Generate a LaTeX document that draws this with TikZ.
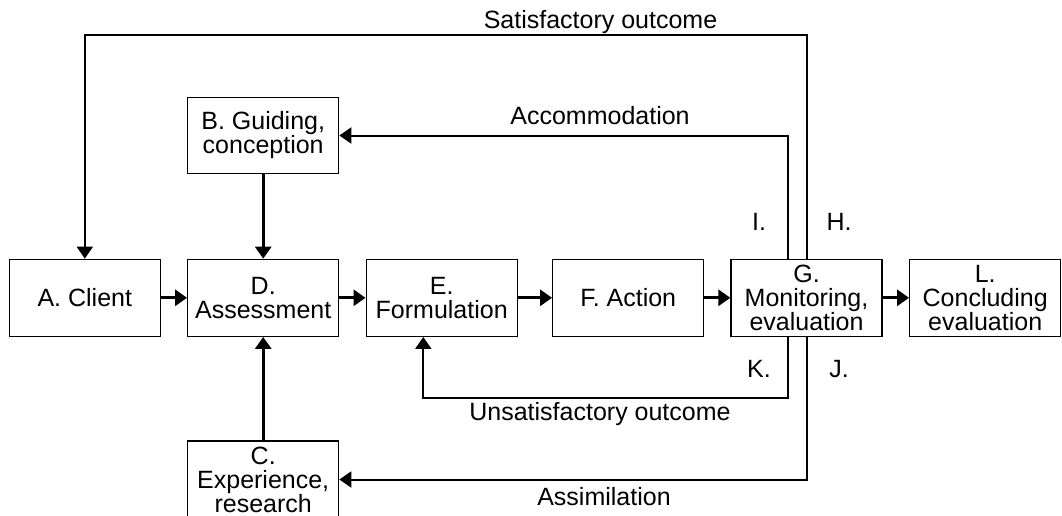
\documentclass[tikz,border=0pt]{standalone}
\usepackage{fontspec}
\setmainfont{Liberation Sans}
\usetikzlibrary{arrows.meta}
\begin{document}
\begin{tikzpicture}[x=1pt,y=-1pt,
  box/.style={draw, line width=1.3pt, minimum width=151pt, minimum height=77pt, inner sep=0pt, align=center, font=\fontsize{25}{24}\selectfont},
  lbl/.style={anchor=base, inner sep=0pt, font=\fontsize{25}{24}\selectfont},
  flow/.style={line width=3pt, -{Triangle[length=12pt,width=16pt]}},
  fb/.style={line width=2pt, -{Triangle[length=12pt,width=16pt]}},
]
\clip (0,0) rectangle (1062,515);
\node[box] (A) at (84.8,297.8) {A. Client};
\node[box] (D) at (263.2,297.8) {D.\\Assessment};
\node[box] (E) at (441.7,297.8) {E.\\Formulation};
\node[box] (F) at (628.2,297.8) {F. Action};
\node[box] (G) at (806.5,297.8) {G.\\Monitoring,\\evaluation};
\node[box] (L) at (985.2,297.8) {L.\\Concluding\\evaluation};
\node[box, minimum height=76.4pt] (B) at (263.2,135.5) {B. Guiding,\\conception};
\node[box] (C) at (263.2,479.5) {C.\\Experience,\\research};

\draw[flow] (A) -- (D);
\draw[flow] (D) -- (E);
\draw[flow] (E) -- (F);
\draw[flow] (F) -- (G);
\draw[flow] (G) -- (L);
\draw[flow] (B) -- (D);
\draw[flow] (C) -- (D);

\coordinate (topY) at (0,35);
\coordinate (unsY) at (0,398);
\draw[fb] (G.north) -- (G.north |- topY) -| (A.north);
\draw[fb] ([xshift=-18.5pt]G.north) |- (B.east);
\draw[fb] ([xshift=-18.5pt]G.south) -- ([xshift=-18.5pt]G.south |- unsY) -| ([xshift=-18.4pt]E.south);
\draw[fb] (G.south) |- (C.east);

\node[lbl] (sat) at (600.5,28) {Satisfactory outcome};
\node[lbl] (acc) at (600,124) {Accommodation};
\node[lbl] (uns) at (600,420) {Unsatisfactory outcome};
\node[lbl] (ass) at (604,505) {Assimilation};
\node[lbl] (I) at (759,230) {I.};
\node[lbl] (H) at (839,230) {H.};
\node[lbl] (K) at (759,377) {K.};
\node[lbl] (J) at (839,377) {J.};
\end{tikzpicture}
\end{document}
